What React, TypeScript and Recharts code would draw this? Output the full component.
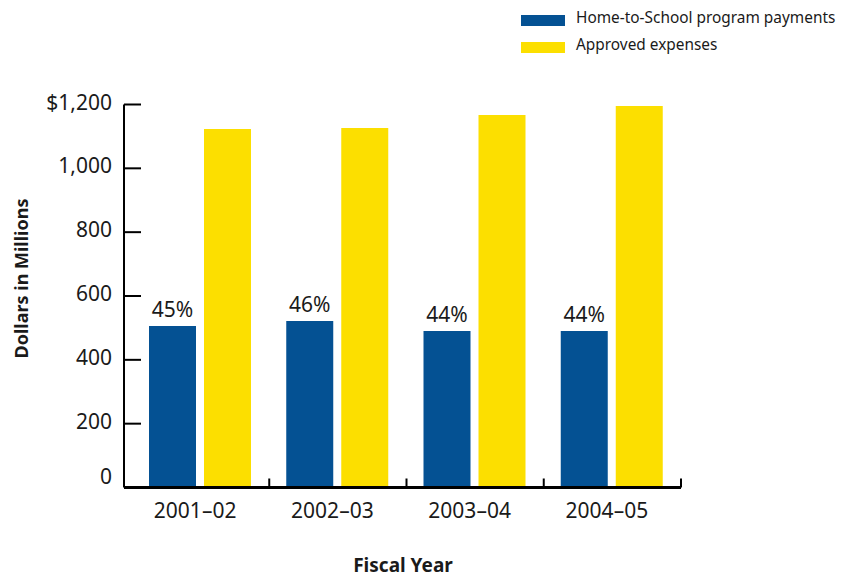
import { BarChart, Bar, XAxis, YAxis, Legend, LabelList } from "recharts";

const fiscalYears = ["2001–02", "2002–03", "2003–04", "2004–05"];
const homeToSchoolPayments = [506, 522, 490, 490];
const approvedExpenses = [1123, 1126, 1167, 1195];
const paymentShares = [45, 46, 44, 44];
const yTicks = [0, 200, 400, 600, 800, 1000, 1200];
const seriesNames = ["Home-to-School program payments", "Approved expenses"];

const BLUE = "#045193";
const YELLOW = "#fcdf00";
const INK = "#1a1a1a";
const FONT = "'Noto Sans', sans-serif";

const data = fiscalYears.map((year, i) => ({
  year,
  payments: homeToSchoolPayments[i],
  approved: approvedExpenses[i],
  share: paymentShares[i],
}));

const topTick = yTicks[yTicks.length - 1];

function formatDollars(v: number) {
  const s = v.toLocaleString("en-US");
  return v === topTick ? `$${s}` : s;
}

// y ticks point inward, into the plot
function YTick({ x, y, payload }: any) {
  const axisX = x + 12;
  const v = payload.value as number;
  return (
    <g>
      <line x1={axisX} x2={axisX + 17} y1={y} y2={y} stroke="#000" strokeWidth={2} />
      <text
        x={x}
        y={v === 0 ? y - 3.5 : y + 5}
        textAnchor="end"
        fontSize={21}
        fill={INK}
        fontFamily={FONT}
      >
        {formatDollars(v)}
      </text>
    </g>
  );
}

// category label in the middle, tick mark on the band's right edge
function XTick({ x, y, payload }: any) {
  const half = payload.offset ?? 68.6;
  return (
    <g>
      <line x1={x + half + 1} x2={x + half + 1} y1={y} y2={y - 9} stroke="#000" strokeWidth={2} />
      <text x={x - 4.5} y={y + 30} textAnchor="middle" fontSize={21} fill={INK} fontFamily={FONT}>
        {payload.value}
      </text>
    </g>
  );
}

function LegendBox({ payload }: any) {
  const items = [...(payload ?? [])].sort(
    (a: any, b: any) => seriesNames.indexOf(a.value) - seriesNames.indexOf(b.value)
  );
  return (
    <div style={{ fontFamily: FONT, fontSize: 15.4, color: INK }}>
      {items.map((entry: any) => (
        <div key={entry.value} style={{ display: "flex", alignItems: "center", height: 27 }}>
          <span
            style={{
              display: "inline-block",
              width: 44,
              height: 11,
              background: entry.color,
              marginRight: 11,
              position: "relative",
              top: 3,
            }}
          />
          <span>{entry.value}</span>
        </div>
      ))}
    </div>
  );
}

export default function App() {
  return (
    <div style={{ position: "absolute", left: 0, top: 0 }}>
      <BarChart
        width={846}
        height={577}
        data={data}
        margin={{ top: 104.5, right: 165, left: 0, bottom: 29.5 }}
        barGap={8}
        style={{ fontFamily: FONT }}
      >
        <XAxis
          dataKey="year"
          height={60}
          padding={{ left: 7, right: 1 }}
          tickSize={0}
          tickMargin={0}
          tickLine={false}
          axisLine={{ stroke: "#000", strokeWidth: 3 }}
          tick={<XTick />}
          interval={0}
          label={() => (
            <text
              x={403}
              y={571.5}
              textAnchor="middle"
              fontSize={19}
              fontWeight="bold"
              fill={INK}
              fontFamily={FONT}
            >
              Fiscal Year
            </text>
          )}
        />
        <YAxis
          width={124}
          domain={[0, 1200]}
          ticks={yTicks}
          tickSize={0}
          tickMargin={12}
          tickLine={false}
          axisLine={{ stroke: "#000", strokeWidth: 2 }}
          tick={<YTick />}
          interval={0}
          label={() => (
            <text
              x={28}
              y={278.5}
              transform="rotate(-90, 28, 278.5)"
              textAnchor="middle"
              fontSize={18}
              fontWeight="bold"
              fill={INK}
              fontFamily={FONT}
            >
              Dollars in Millions
            </text>
          )}
        />
        <Legend
          layout="vertical"
          align="center"
          verticalAlign="middle"
          wrapperStyle={{ top: 4, left: 521, width: 325 }}
          content={<LegendBox />}
        />
        <Bar
          dataKey="payments"
          name={seriesNames[0]}
          fill={BLUE}
          barSize={47}
          isAnimationActive={false}
        >
          <LabelList
            dataKey="share"
            position="top"
            offset={9}
            formatter={(v: any) => `${v}%`}
            fontSize={21}
            fill={INK}
            fontFamily={FONT}
          />
        </Bar>
        <Bar
          dataKey="approved"
          name={seriesNames[1]}
          fill={YELLOW}
          barSize={47}
          isAnimationActive={false}
        />
      </BarChart>
    </div>
  );
}
